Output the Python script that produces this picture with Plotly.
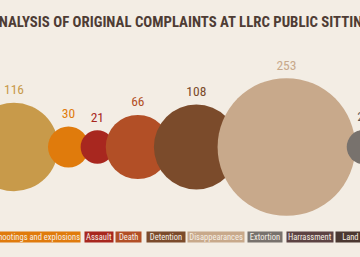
import plotly.graph_objects as go

# ---- data ----
categories = ["Abductions", "Shootings and explosions", "Assault", "Death", "Detention",
              "Disappearances", "Extortion"]
values = [116, 30, 21, 66, 108, 253, 22]
legend_labels = ["Abductions", "Shootings and explosions", "Assault", "Death", "Detention",
                 "Disappearances", "Extortion", "Harrassment", "Land grabbing"]
title_text = "ANALYSIS OF ORIGINAL COMPLAINTS AT LLRC PUBLIC SITTINGS"

# ---- styles ----
colors = {"Abductions": "#C89A4A", "Shootings and explosions": "#E07B0C", "Assault": "#A8271F",
          "Death": "#B24F26", "Detention": "#7B4B2B", "Disappearances": "#C8A98B",
          "Extortion": "#78726D", "Harrassment": "#5D4343", "Land grabbing": "#4B3831"}
label_colors = {"Extortion": "#5A5450"}
BG = "#F3EDE4"
TITLE_COLOR = "#4E3C34"
FONT = "Roboto Condensed, Open Sans Condensed, Roboto, sans-serif"

W, H = 360, 257
CY = 147            # baseline of the bubble row (px)
X0 = 14             # centre of first bubble (px)

# bubble radius scale (power scale on value)
def radius(v):
    return 17.2 * (v / 22) ** 0.568

radii = [radius(v) for v in values]
xs = [X0]
for i in range(1, len(values)):
    overlap = 0.5 * min(radii[i - 1], radii[i])
    xs.append(xs[-1] + radii[i - 1] + radii[i] - overlap)

fig = go.Figure()
fig.add_trace(go.Scatter(
    x=xs, y=[CY] * len(values), mode="markers",
    marker=dict(size=[2 * r for r in radii], color=[colors[c] for c in categories],
                line=dict(width=0), opacity=1),
    hovertext=categories, hoverinfo="text", showlegend=False))

fig.add_trace(go.Scatter(
    x=xs, y=[CY - r - 12 for r in radii], mode="text",
    text=[str(v) for v in values], textposition="middle center",
    textfont=dict(family=FONT, size=13.5,
                  color=[label_colors.get(c, colors[c]) for c in categories]),
    hoverinfo="skip", showlegend=False))

# title (wider than the view, clipped at both ends as in the original crop)
fig.add_annotation(x=184, y=22, xref="x", yref="y", text=title_text, showarrow=False,
                   xanchor="center", yanchor="middle",
                   font=dict(family=FONT, size=14.8, weight="bold", color=TITLE_COLOR))

# legend chips
chip_left = {"Assault": 84, "Death": 114.7, "Detention": 146, "Disappearances": 186.7,
             "Extortion": 246.7, "Harrassment": 286, "Land grabbing": 334.7}
chip_w = {"Abductions": 50, "Shootings and explosions": 86, "Assault": 28, "Death": 25.3,
          "Detention": 38, "Disappearances": 56.3, "Extortion": 34, "Harrassment": 45.7,
          "Land grabbing": 60}
for lab in legend_labels:
    if lab in chip_left:
        x, anchor = chip_left[lab], "left"
    elif lab == "Shootings and explosions":
        x, anchor = 80.7, "right"
    else:
        x, anchor = -10, "right"
    fig.add_annotation(x=x, y=237, xref="x", yref="y", text=lab, showarrow=False,
                       xanchor=anchor, yanchor="middle", width=chip_w[lab], height=10,
                       bgcolor=colors[lab], borderpad=0, align="center",
                       font=dict(family=FONT, size=8.5, color="#F6EFE6"))

fig.update_layout(
    width=W, height=H, margin=dict(l=0, r=0, t=0, b=0),
    paper_bgcolor=BG, plot_bgcolor=BG,
    xaxis=dict(range=[0, W], visible=False, fixedrange=True),
    yaxis=dict(range=[H, 0], visible=False, fixedrange=True),
)
fig.write_html("out.html")
